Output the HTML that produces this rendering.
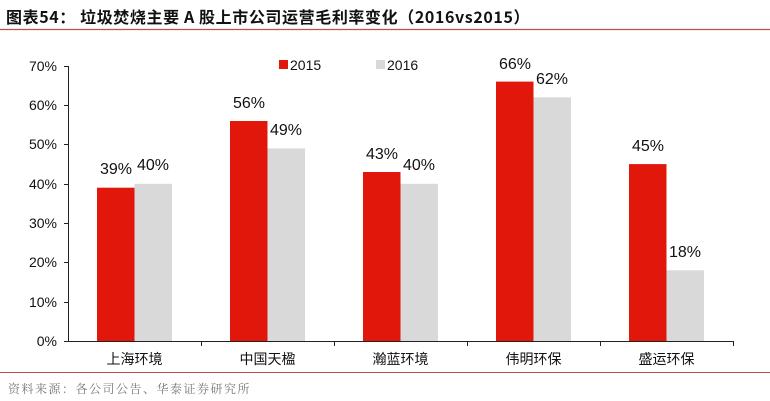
<!DOCTYPE html>
<html><head><meta charset="utf-8"><style>
body{margin:0;background:#fff;width:770px;height:401px;overflow:hidden}
svg{display:block}
</style></head><body>
<svg width="770" height="401" xmlns="http://www.w3.org/2000/svg" font-family="'Liberation Sans','Noto Sans CJK SC',sans-serif">
<text x="6" y="23" font-size="16" font-weight="bold" fill="#111" letter-spacing="0.6" font-family="'Noto Sans CJK SC',sans-serif">图表54：  垃圾焚烧主要 A 股上市公司运营毛利率变化（2016vs2015）</text>
<line x1="0" y1="29.5" x2="770" y2="29.5" stroke="#c0504d" stroke-width="1.2"/>
<g font-size="14" fill="#111" text-anchor="end">
<text x="57" y="71">70%</text><text x="57" y="110">60%</text><text x="57" y="149">50%</text><text x="57" y="189">40%</text><text x="57" y="228">30%</text><text x="57" y="267">20%</text><text x="57" y="307">10%</text><text x="57" y="346">0%</text>
</g>
<g stroke="#222" stroke-width="1">
<line x1="68.5" y1="66" x2="68.5" y2="341"/>
<line x1="68" y1="341.5" x2="733" y2="341.5"/>
<line x1="64" y1="66.5" x2="68" y2="66.5"/><line x1="64" y1="105.5" x2="68" y2="105.5"/><line x1="64" y1="144.5" x2="68" y2="144.5"/><line x1="64" y1="184.5" x2="68" y2="184.5"/><line x1="64" y1="223.5" x2="68" y2="223.5"/><line x1="64" y1="262.5" x2="68" y2="262.5"/><line x1="64" y1="302.5" x2="68" y2="302.5"/><line x1="64" y1="341.5" x2="68" y2="341.5"/>
<line x1="201.5" y1="341" x2="201.5" y2="346"/><line x1="334.5" y1="341" x2="334.5" y2="346"/><line x1="467.5" y1="341" x2="467.5" y2="346"/><line x1="600.5" y1="341" x2="600.5" y2="346"/><line x1="733.5" y1="341" x2="733.5" y2="346"/>
</g>
<g fill="#e2170c">
<rect x="97" y="187.7" width="37.5" height="153.3"/>
<rect x="230" y="121" width="37.5" height="220"/>
<rect x="363" y="172" width="37.5" height="169"/>
<rect x="496" y="81.6" width="37.5" height="259.4"/>
<rect x="629" y="164.1" width="37.5" height="176.9"/>
</g>
<g fill="#d9d9d9">
<rect x="134.5" y="183.8" width="37.5" height="157.2"/>
<rect x="267.5" y="148.4" width="37.5" height="192.6"/>
<rect x="400.5" y="183.8" width="37.5" height="157.2"/>
<rect x="533.5" y="97.3" width="37.5" height="243.7"/>
<rect x="666.5" y="270.3" width="37.5" height="70.7"/>
</g>
<g font-size="16" fill="#111" text-anchor="middle">
<text x="116" y="174">39%</text><text x="153" y="170">40%</text>
<text x="249" y="108">56%</text><text x="286" y="135">49%</text>
<text x="382" y="159">43%</text><text x="419" y="170">40%</text>
<text x="515" y="69">66%</text><text x="552" y="84">62%</text>
<text x="648" y="151">45%</text><text x="685" y="257">18%</text>
</g>
<g font-size="14" fill="#111" text-anchor="middle" font-family="'Noto Sans CJK SC',sans-serif">
<text x="134.5" y="364">上海环境</text><text x="267.5" y="364">中国天楹</text><text x="400.5" y="364">瀚蓝环境</text><text x="533.5" y="364">伟明环保</text><text x="666.5" y="364">盛运环保</text>
</g>
<rect x="279" y="60" width="9" height="9" fill="#e2170c"/>
<text x="290" y="70" font-size="14" fill="#111">2015</text>
<rect x="376" y="60" width="9" height="9" fill="#d9d9d9"/>
<text x="387" y="70" font-size="14" fill="#111">2016</text>
<line x1="0" y1="372.5" x2="770" y2="372.5" stroke="#c0504d" stroke-width="1"/>
<text x="8" y="393" font-size="12" fill="#777" font-family="'Noto Serif CJK SC',serif" letter-spacing="1.5">资料来源：各公司公告、华泰证券研究所</text>
</svg>
</body></html>
